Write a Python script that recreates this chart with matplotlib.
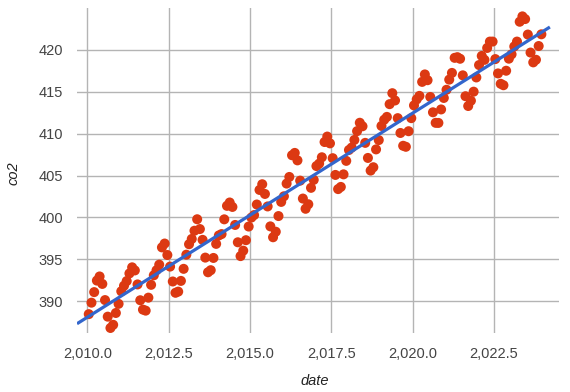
import numpy as np
import matplotlib
matplotlib.use('Agg')
import matplotlib.pyplot as plt

# monthly co2 readings, one row per year (Jan..Dec)
years = [2010, 2011, 2012, 2013, 2014, 2015, 2016, 2017, 2018, 2019, 2020, 2021, 2022, 2023]
co2_by_year = [
    [388.45, 389.82, 391.08, 392.46, 392.95, 392.06, 390.13, 388.15, 386.80, 387.18, 388.59, 389.68],
    [391.18, 391.84, 392.40, 393.31, 394.04, 393.67, 392.00, 390.11, 388.99, 388.87, 390.42, 391.95],
    [393.09, 393.69, 394.36, 396.42, 396.88, 395.51, 394.13, 392.35, 391.00, 391.14, 392.42, 393.86],
    [395.55, 396.80, 397.43, 398.41, 399.78, 398.61, 397.32, 395.20, 393.45, 393.70, 395.16, 396.84],
    [397.85, 398.01, 399.77, 401.38, 401.78, 401.25, 399.10, 397.03, 395.38, 396.03, 397.28, 398.91],
    [399.98, 400.28, 401.54, 403.28, 403.96, 402.80, 401.31, 398.93, 397.63, 398.29, 400.16, 401.85],
    [402.52, 404.04, 404.83, 407.42, 407.70, 406.81, 404.39, 402.25, 401.03, 401.57, 403.53, 404.48],
    [406.13, 406.42, 407.18, 409.00, 409.65, 408.84, 407.07, 405.07, 403.38, 403.64, 405.14, 406.75],
    [408.05, 408.34, 409.25, 410.30, 411.30, 410.88, 408.90, 407.10, 405.59, 405.99, 408.12, 409.23],
    [410.92, 411.66, 412.00, 413.52, 414.83, 413.96, 411.85, 410.08, 408.55, 408.43, 410.29, 411.85],
    [413.37, 414.09, 414.51, 416.18, 417.07, 416.38, 414.38, 412.55, 411.29, 411.28, 412.89, 414.26],
    [415.24, 416.45, 417.25, 419.05, 419.13, 418.94, 416.96, 414.47, 413.30, 413.93, 415.01, 416.71],
    [418.19, 419.28, 418.81, 420.23, 420.99, 420.99, 418.90, 417.19, 415.95, 415.78, 417.51, 418.95],
    [419.47, 420.41, 420.99, 423.36, 424.00, 423.68, 421.83, 419.68, 418.51, 418.82, 420.46, 421.86],
]
months = list(range(1, 13))

xticks = [2010.0, 2012.5, 2015.0, 2017.5, 2020.0, 2022.5]
yticks = [390, 395, 400, 405, 410, 415, 420]

date = np.array([y + (m - 0.5) / 12 for y in years for m in months])
co2 = np.array([v for row in co2_by_year for v in row])

c_pts = '#dc3912'
c_trend = '#3366cc'
c_grid = '#b4b4b4'
c_text = '#444444'

plt.rcParams['font.family'] = ['Liberation Sans', 'DejaVu Sans']

fig = plt.figure(figsize=(5.7, 3.92), dpi=100)
ax = fig.add_axes([77 / 570, 1 - 333 / 392, (559 - 77) / 570, (333 - 8) / 392])

ax.set_xlim(2009.68, 2024.5)
ax.set_ylim(386.2, 425.0)

for t in xticks:
    ax.axvline(t, color=c_grid, lw=1, zorder=0)
for t in yticks:
    ax.axhline(t, color=c_grid, lw=1, zorder=0)

ax.scatter(date, co2, s=52, color=c_pts, edgecolors='none', zorder=2)

# linear trendline
k, b = np.polyfit(date, co2, 1)
tx = np.array([2009.68, 2024.22])
ax.plot(tx, k * tx + b, color=c_trend, lw=2.3, zorder=3, solid_capstyle='butt')

ax.set_xticks(xticks)
ax.set_xticklabels(['{:,.1f}'.format(t) for t in xticks])
ax.set_yticks(yticks)
ax.set_yticklabels([str(t) for t in yticks])
ax.tick_params(axis='x', length=0, pad=10, labelsize=10.5, colors=c_text)
ax.tick_params(axis='y', length=0, pad=10, labelsize=10.5, colors=c_text)
for s in ax.spines.values():
    s.set_visible(False)

fig.text(315 / 570, 1 - 381 / 392, 'date', style='italic', fontsize=10.5,
         color='#222222', ha='center', va='center')
fig.text(14 / 570, 1 - 173 / 392, 'co2', style='italic', fontsize=10.5,
         color='#222222', ha='center', va='center', rotation=90)

fig.savefig('out.png', dpi=100)
